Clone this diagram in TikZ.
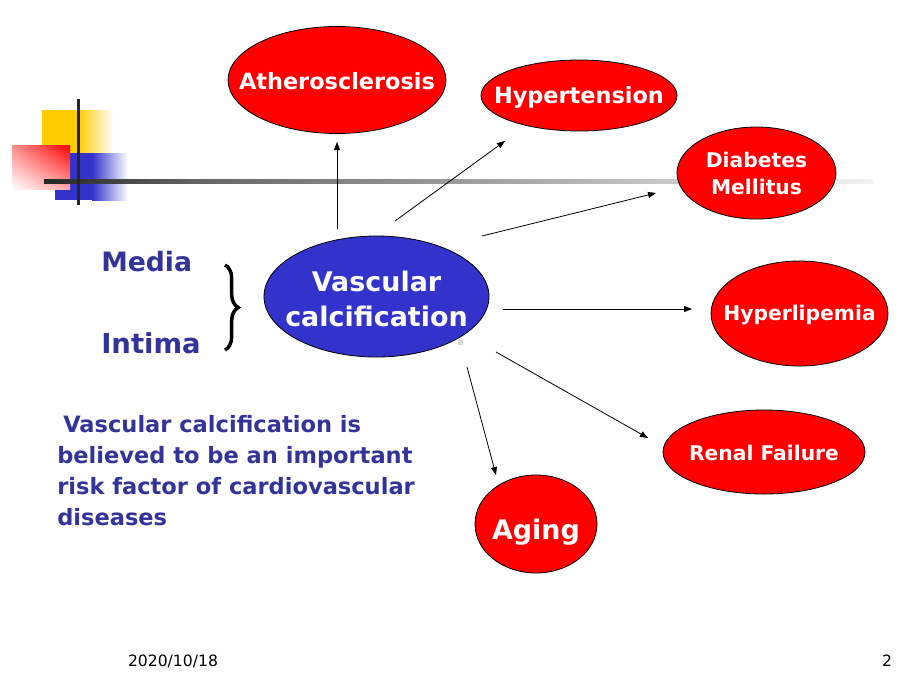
\documentclass[tikz,border=0pt]{standalone}
\usepackage{fontspec}
\setmainfont{DejaVu Sans}
\usetikzlibrary{shapes.geometric,arrows.meta,decorations.pathreplacing,shadings}
\definecolor{ppred}{HTML}{FF0000}
\definecolor{ppblue}{HTML}{3333CC}
\definecolor{pptext}{HTML}{333399}
\definecolor{ppyellow}{HTML}{FFCC00}
\newcommand{\fsz}[2]{\fontsize{#1pt}{#2pt}\selectfont}
\begin{document}
\begin{tikzpicture}[x=0.75pt,y=-0.75pt,
  redell/.style={ellipse, draw=black, line width=0.6pt, fill=ppred, inner sep=0pt},
  blueell/.style={ellipse, draw=black, line width=0.6pt, fill=ppblue, inner sep=0pt},
  intxt/.style={text=white, align=center, inner sep=0pt},
  arr/.style={-{Triangle[length=6pt,width=4.5pt]}, line width=0.6pt, black},
  lbl/.style={text=pptext, inner sep=0pt, anchor=base west}]
\useasboundingbox (0,0) rectangle (920,690);
% decorative squares
\fill[ppyellow] (42,110) rectangle (78,153);
\shade[left color=ppyellow, right color=white] (78,110) rectangle (113,153);
\fill[ppblue] (55,153) rectangle (92,200);
\shade[left color=ppblue, right color=white] (92,153) rectangle (128,200);
\shade[upper right=red, upper left=red!45, lower right=red!35, lower left=white] (12,145) rectangle (70,189);
\shade[left color=black!85, right color=black!60] (44,179.5) rectangle (200,183);
\shade[left color=black!60, right color=black!5] (200,179.5) rectangle (873,183);
\fill[black!85] (76.5,99) rectangle (79.5,205);
% ellipses
\node[redell, minimum width=163.5pt, minimum height=80.25pt,
  label={[intxt, font=\bfseries\fsz{16.8}{20.25}, yshift=-0.6pt]center:Atherosclerosis}] (ath) at (337,80) {};
\node[redell, minimum width=147pt, minimum height=53.25pt,
  label={[intxt, font=\bfseries\fsz{16.8}{20.25}, yshift=-1.2pt]center:Hypertension}] (hyp) at (579,95.5) {};
\node[redell, minimum width=119.25pt, minimum height=69pt,
  label={[intxt, font=\bfseries\fsz{15.2}{20.25}]center:{Diabetes\\Mellitus}}] (dia) at (756.5,173) {};
\node[redell, minimum width=132.75pt, minimum height=78.75pt,
  label={[intxt, font=\bfseries\fsz{15.2}{20.25}, yshift=-0.8pt]center:Hyperlipemia}] (hli) at (799.5,313.5) {};
\node[redell, minimum width=151.5pt, minimum height=63pt,
  label={[intxt, font=\bfseries\fsz{15.2}{20.25}, yshift=-0.8pt]center:Renal Failure}] (ren) at (764,452) {};
\node[redell, minimum width=91.5pt, minimum height=73.5pt,
  label={[intxt, font=\bfseries\fsz{20.2}{26.25}, yshift=-6pt]center:Aging}] (age) at (536,524) {};
\node[blueell, minimum width=168.75pt, minimum height=90.75pt,
  label={[intxt, font=\bfseries\fsz{20.2}{26.25}, yshift=-1.5pt]center:{Vascular\\calcification}}] (vas) at (376.5,296.5) {};
\fill[black!15] (458,340) rectangle (463,345);
% arrows
\coordinate (s1) at (337,229); \coordinate (e1) at (337,142);
\coordinate (s2) at (395,221); \coordinate (e2) at (505,141);
\coordinate (s3) at (482,236); \coordinate (e3) at (656,193);
\coordinate (s4) at (503,309); \coordinate (e4) at (692,309);
\coordinate (s5) at (496,352); \coordinate (e5) at (648,438);
\coordinate (s6) at (467,367); \coordinate (e6) at (496,475);
\draw[arr] (s1) -- (e1);
\draw[arr] (s2) -- (e2);
\draw[arr] (s3) -- (e3);
\draw[arr] (s4) -- (e4);
\draw[arr] (s5) -- (e5);
\draw[arr] (s6) -- (e6);
% left labels
\node[lbl, font=\bfseries\fsz{20}{26}] (media) at (101,271) {Media};
\node[lbl, font=\bfseries\fsz{20.6}{26}] (intima) at (101,353) {Intima};
\coordinate (bt) at (225,265); \coordinate (bb) at (225,350);
\draw[line width=2.6pt, decorate, decoration={brace, amplitude=10pt}] (bt) -- (bb);
\node[text=pptext, font=\bfseries\fsz{16.9}{23.25}, align=left, anchor=north west, inner sep=0pt] (para) at (57,415)
 {\hspace*{4.5pt}Vascular calcification is\\believed to be an important\\risk factor of cardiovascular\\diseases};
% footer
\node[font=\fsz{11.7}{14}, inner sep=0pt] (date) at (173,661) {2020/10/18};
\node[font=\fsz{11.7}{14}, inner sep=0pt] (page) at (887,661) {2};
\end{tikzpicture}
\end{document}
